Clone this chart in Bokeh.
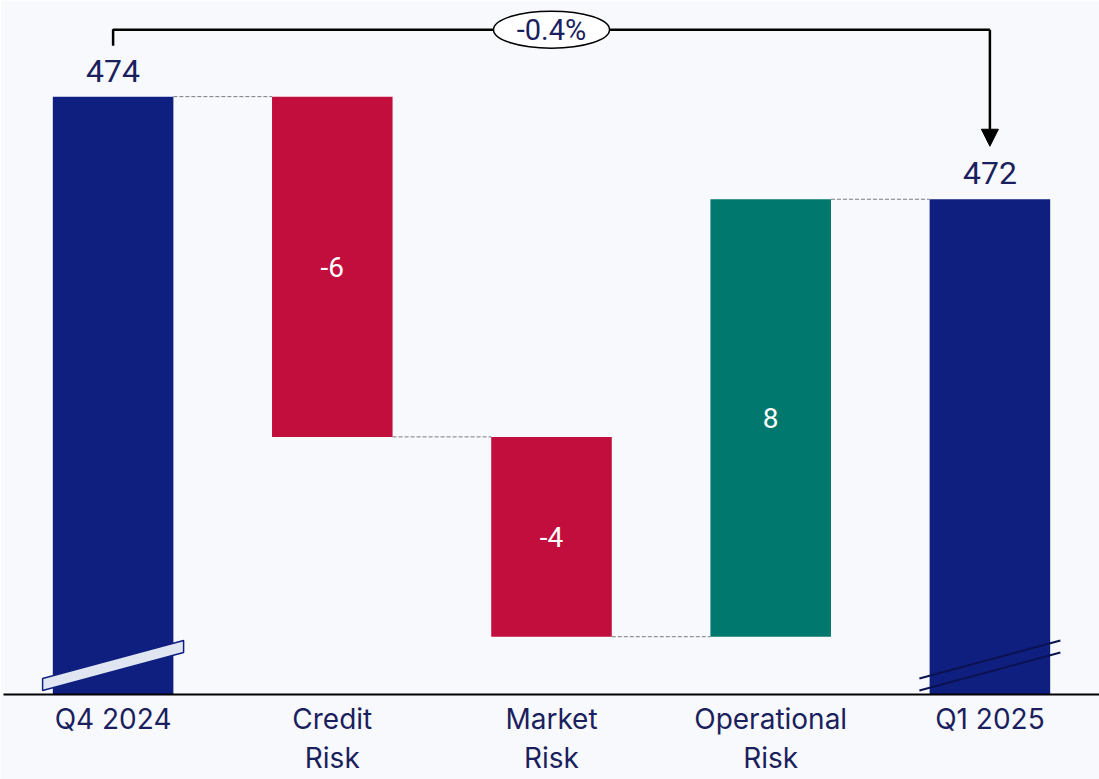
from bokeh.plotting import figure
from bokeh.models import Range1d, FixedTicker, Arrow, NormalHead, ColumnDataSource
from bokeh.core.properties import value
from bokeh.embed import file_html
from bokeh.resources import INLINE

# ---- data ----
categories = ["Q4 2024", "Credit\nRisk", "Market\nRisk", "Operational\nRisk", "Q1 2025"]
start_total = 474.0
changes = [-6.3, -3.7, 8.1]
end_total = 472.1
change_colors = ["#c20e3d", "#c20e3d", "#00786e"]
total_color = "#0f1f80"
text_color = "#1b1f5e"

Y_MIN, Y_MAX = 462.93, 475.78
W, H = 1099, 779
BORDER_L, BORDER_B = 3, 85
frame_w = W - BORDER_L
frame_h = H - BORDER_B
ppx = frame_w / 5.0                 # px per category
ppy = frame_h / (Y_MAX - Y_MIN)     # px per unit
BAR_W = 0.55

# waterfall geometry
xs = list(range(len(categories)))
levels = [start_total]
for c in changes:
    levels.append(levels[-1] + c)
tops, bottoms, colors = [start_total], [Y_MIN], [total_color]
for i, c in enumerate(changes):
    tops.append(max(levels[i], levels[i + 1]))
    bottoms.append(min(levels[i], levels[i + 1]))
    colors.append(change_colors[i])
tops.append(end_total)
bottoms.append(Y_MIN)
colors.append(total_color)

p = figure(width=W, height=H, x_range=Range1d(-0.5, 4.5), y_range=Range1d(Y_MIN, Y_MAX),
           output_backend="svg", toolbar_location=None,
           min_border_left=BORDER_L, min_border_right=0, min_border_top=0, min_border_bottom=BORDER_B)
p.background_fill_color = "#f8f9fc"
p.border_fill_color = "#f8f9fc"
p.outline_line_color = None
p.grid.visible = False
p.yaxis.visible = False

ax = p.xaxis[0]
ax.ticker = FixedTicker(ticks=xs)
ax.major_label_overrides = {i: c for i, c in enumerate(categories)}
ax.major_tick_line_color = None
ax.minor_tick_line_color = None
ax.major_tick_out = 0
ax.major_tick_in = 0
ax.axis_line_color = "black"
ax.axis_line_width = 2
ax.major_label_text_font = "Inter"
ax.major_label_text_font_size = "28px"
ax.major_label_text_color = text_color
ax.major_label_standoff = 7
ax.major_label_text_line_height = 1.15

src = ColumnDataSource(dict(x=xs, top=tops, bottom=bottoms, color=colors))
p.vbar(x="x", top="top", bottom="bottom", width=BAR_W, fill_color="color", line_color=None, source=src)

# dashed connectors
conn = [levels[0], levels[1], levels[2], end_total]
p.segment(x0=[i + BAR_W / 2 for i in range(4)], x1=[i + 1 - BAR_W / 2 for i in range(4)],
          y0=conn, y1=conn, line_color="#7a7a7a", line_width=1, line_dash="4 2")

# axis break marks
bx = [-70.5 / ppx, 70.5 / ppx]
by_lo = [4 / ppy, 42 / ppy]
by_hi = [16 / ppy, 54 / ppy]
x0 = xs[0]
p.patch(x=[x0 + bx[0], x0 + bx[1], x0 + bx[1], x0 + bx[0]],
        y=[Y_MIN + by_hi[0], Y_MIN + by_hi[1], Y_MIN + by_lo[1], Y_MIN + by_lo[0]],
        fill_color="#dfe6f2", line_color=total_color, line_width=1.5)
x4 = xs[4]
p.multi_line(xs=[[x4 + bx[0], x4 + bx[1]], [x4 + bx[0], x4 + bx[1]]],
             ys=[[Y_MIN + by_hi[0], Y_MIN + by_hi[1]], [Y_MIN + by_lo[0], Y_MIN + by_lo[1]]],
             line_color="#0b1250", line_width=2)

# total labels
font = value("Roboto")
p.text(x=[xs[0], xs[4]], y=[start_total, end_total],
       text=[f"{start_total:.0f}", f"{end_total:.0f}"],
       text_font=font, text_font_size="32px", text_color=text_color,
       text_align="center", text_baseline="middle", y_offset=-26)

# change labels
mids = [(tops[i] + bottoms[i]) / 2 for i in range(1, 4)]
p.text(x=xs[1:4], y=mids, text=[f"{c:.0f}" for c in changes],
       text_font=font, text_font_size="28px", text_color="white",
       text_align="center", text_baseline="middle")

# top bracket with arrow
y_br = start_total + 67 / ppy
y_st = start_total + 51 / ppy
p.line(x=[xs[0], xs[0], xs[4]], y=[y_st, y_br, y_br], line_color="black", line_width=2.5)
p.add_layout(Arrow(end=NormalHead(size=17, fill_color="black", line_color="black"),
                   x_start=xs[4], y_start=y_br, x_end=xs[4], y_end=end_total + 53 / ppy,
                   line_color="black", line_width=2.5))
pct = (end_total - start_total) / start_total * 100
p.ellipse(x=[2], y=[y_br], width=116, height=37, width_units="screen", height_units="screen",
          fill_color="white", line_color="black", line_width=1.5)
p.text(x=[2], y=[y_br], text=[f"{pct:.1f}%"], text_font=font, text_font_size="29px",
       text_color=text_color, text_align="center", text_baseline="middle")

open("out.html", "w").write(file_html(p, INLINE))
